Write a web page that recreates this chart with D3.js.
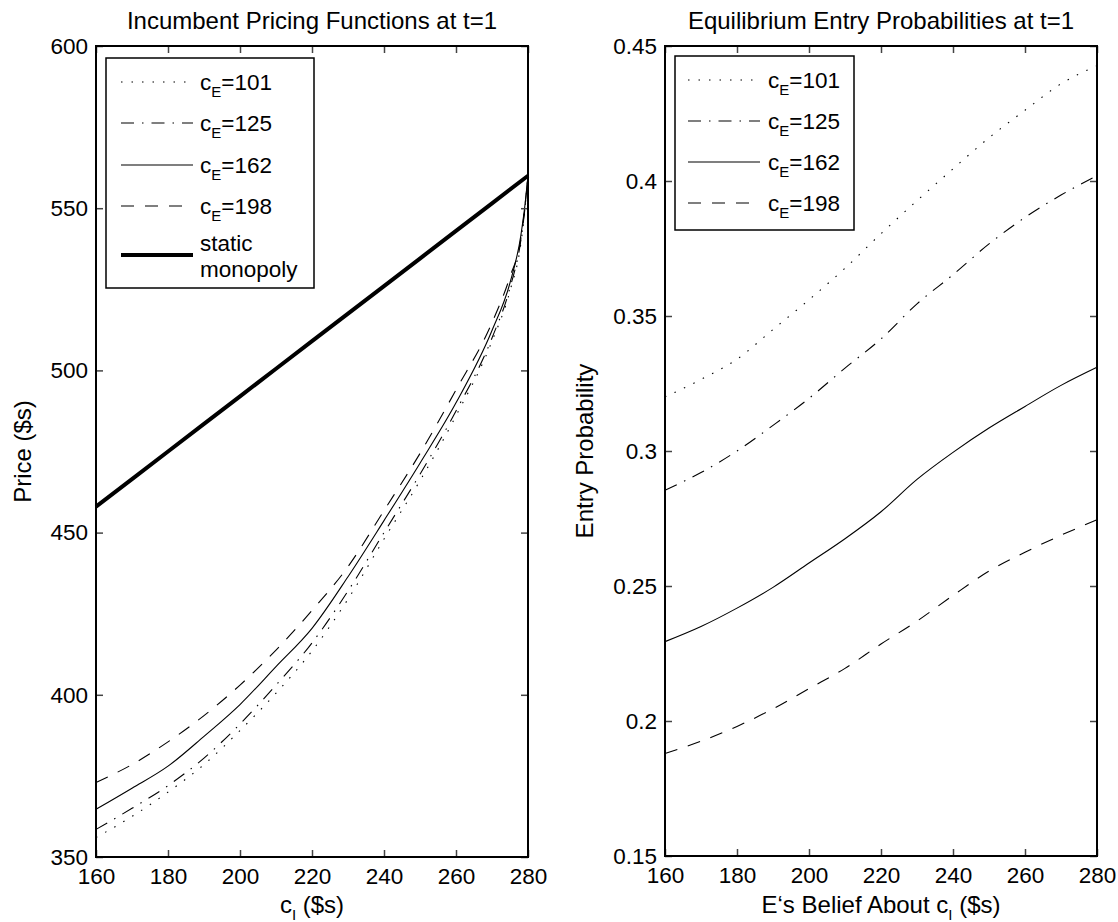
<!DOCTYPE html>
<html>
<head>
<meta charset="utf-8">
<script src="https://cdn.jsdelivr.net/npm/d3@7"></script>
<style>
body { margin: 0; background: #fff; }
text { font-family: "Liberation Sans", Arial, sans-serif; fill: #000; }
</style>
</head>
<body>
<div id="chart"></div>
<script>
// ---- data ----
var seriesNames = ["101", "125", "162", "198"];

// left panel: incumbent price vs c_I
var priceC   = [160, 170, 180, 190, 200, 210, 220, 230, 240, 250, 260, 270, 275, 278, 279, 280];
var price101 = [356, 362.5, 370, 378.5, 389, 400.5, 413.5, 429.5, 448, 466, 486, 509, 524.5, 539, 548, 560];
var price125 = [358.5, 365, 372, 380.5, 391, 403, 416, 432, 450, 468, 487.5, 510, 525.5, 540, 548.5, 560];
var price162 = [364.7, 371.2, 378, 387.2, 397, 408.7, 420.5, 436.4, 453.7, 471.4, 490, 512.3, 527, 541.5, 549.5, 560];
var price198 = [373, 378.5, 385.5, 393.6, 403, 413.8, 426, 439.5, 456.8, 474.4, 494, 514.7, 528.9, 540.5, 549, 560];
var staticC  = [160, 180, 200, 220, 240, 260, 280];
var staticP  = [458, 475, 492, 509, 526, 543, 560];

// right panel: entry probability vs E's belief about c_I
var probC   = [160, 170, 180, 190, 200, 210, 220, 230, 240, 250, 260, 270, 280];
var prob101 = [0.320, 0.3265, 0.334, 0.345, 0.356, 0.3677, 0.3805, 0.3927, 0.4045, 0.416, 0.4262, 0.436, 0.4427];
var prob125 = [0.2855, 0.292, 0.300, 0.3095, 0.3195, 0.3307, 0.3415, 0.3545, 0.3653, 0.3767, 0.3865, 0.3948, 0.402];
var prob162 = [0.2294, 0.235, 0.2418, 0.2495, 0.2585, 0.2675, 0.2775, 0.2895, 0.2995, 0.3085, 0.3165, 0.3243, 0.331];
var prob198 = [0.188, 0.1925, 0.198, 0.2045, 0.212, 0.2195, 0.2285, 0.237, 0.2465, 0.2555, 0.2625, 0.2688, 0.2745];

var xTicks = [160, 180, 200, 220, 240, 260, 280];
var priceTicks = [350, 400, 450, 500, 550, 600];
var probTicks = [0.15, 0.2, 0.25, 0.3, 0.35, 0.4, 0.45];

// ---- styles ----
var dashes = { "101": "1.5,9", "125": "13,8,1.5,8", "162": null, "198": "13,11" };
var tickFont = 22.5;
var labelFont = 24;

var svg = d3.select("#chart").append("svg")
  .attr("width", 1118)
  .attr("height", 922);

svg.append("rect").attr("width", 1118).attr("height", 922).attr("fill", "#fff");

function subLabel(sel, pre, sub, post) {
  sel.append("tspan").text(pre);
  sel.append("tspan").attr("font-size", 15).attr("dy", 7).text(sub);
  if (post) sel.append("tspan").attr("dy", -7).text(post);
}

function drawPanel(p) {
  var x = d3.scaleLinear().domain([160, 280]).range([p.left, p.right]);
  var y = d3.scaleLinear().domain(p.yDomain).range([p.bottom, p.top]);

  var g = svg.append("g");

  // data lines
  var line = d3.line()
    .x(function(d) { return x(d[0]); })
    .y(function(d) { return y(d[1]); })
    .curve(d3.curveMonotoneX);

  if (p.thick) {
    g.append("path")
      .datum(d3.zip(p.thick.c, p.thick.v))
      .attr("d", line)
      .attr("fill", "none")
      .attr("stroke", "#000")
      .attr("stroke-width", 4);
  }

  p.series.forEach(function(s, i) {
    g.append("path")
      .datum(d3.zip(p.xs, s))
      .attr("d", line)
      .attr("fill", "none")
      .attr("stroke", "#000")
      .attr("stroke-width", 1.1)
      .attr("stroke-dasharray", dashes[seriesNames[i]]);
  });

  // axes (ticks point inward, on all four sides)
  var bottomAxis = d3.axisBottom(x).tickValues(xTicks).tickSize(-7).tickPadding(11);
  var topAxis = d3.axisTop(x).tickValues(xTicks).tickSize(-7).tickFormat("");
  var leftAxis = d3.axisLeft(y).tickValues(p.yTicks).tickSize(-7).tickPadding(8).tickFormat(p.fmt);
  var rightAxis = d3.axisRight(y).tickValues(p.yTicks).tickSize(-7).tickFormat("");

  var axes = [
    g.append("g").attr("transform", "translate(0," + p.bottom + ")").call(bottomAxis),
    g.append("g").attr("transform", "translate(0," + p.top + ")").call(topAxis),
    g.append("g").attr("transform", "translate(" + p.left + ",0)").call(leftAxis),
    g.append("g").attr("transform", "translate(" + p.right + ",0)").call(rightAxis)
  ];
  axes.forEach(function(a) {
    a.select(".domain").remove();
    a.selectAll(".tick line").attr("stroke", "#444").attr("stroke-width", 1.5);
    a.selectAll("text").attr("font-size", tickFont)
      .attr("font-family", "Liberation Sans, Arial, sans-serif").attr("fill", "#000");
  });

  g.append("rect")
    .attr("x", p.left).attr("y", p.top)
    .attr("width", p.right - p.left).attr("height", p.bottom - p.top)
    .attr("fill", "none").attr("stroke", "#000").attr("stroke-width", 2);

  // title
  g.append("text")
    .attr("x", (p.left + p.right) / 2).attr("y", 29)
    .attr("text-anchor", "middle").attr("font-size", labelFont)
    .text(p.title);

  // x label
  var xl = g.append("text")
    .attr("x", (p.left + p.right) / 2).attr("y", 913)
    .attr("text-anchor", "middle").attr("font-size", labelFont);
  subLabel(xl, p.xLabelPre, "I", " ($s)");

  // y label
  g.append("text")
    .attr("transform", "translate(" + p.yLabelX + "," + ((p.top + p.bottom) / 2) + ") rotate(-90)")
    .attr("text-anchor", "middle").attr("font-size", labelFont)
    .text(p.yLabel);

  // legend
  var L = p.legend;
  g.append("rect")
    .attr("x", L.x).attr("y", L.y).attr("width", L.w).attr("height", L.h)
    .attr("fill", "#fff").attr("stroke", "#000").attr("stroke-width", 1.5);

  seriesNames.forEach(function(name, i) {
    var ry = L.rows[i];
    g.append("line")
      .attr("x1", L.lx1).attr("x2", L.lx2).attr("y1", ry).attr("y2", ry)
      .attr("stroke", "#000").attr("stroke-width", 1.1)
      .attr("stroke-dasharray", dashes[name]);
    var t = g.append("text").attr("x", L.tx).attr("y", ry + 8).attr("font-size", tickFont);
    subLabel(t, "c", "E", "=" + name);
  });

  if (L.staticRow) {
    g.append("line")
      .attr("x1", L.lx1).attr("x2", L.lx2).attr("y1", L.staticRow).attr("y2", L.staticRow)
      .attr("stroke", "#000").attr("stroke-width", 4);
    g.append("text").attr("x", L.tx).attr("y", L.staticRow - 4).attr("font-size", tickFont).text("static");
    g.append("text").attr("x", L.tx).attr("y", L.staticRow + 22).attr("font-size", tickFont).text("monopoly");
  }
}

drawPanel({
  left: 96, right: 528, top: 46, bottom: 857,
  yDomain: [350, 600], yTicks: priceTicks, fmt: d3.format("d"),
  xs: priceC, series: [price101, price125, price162, price198],
  thick: { c: staticC, v: staticP },
  title: "Incumbent Pricing Functions at t=1",
  xLabelPre: "c", yLabel: "Price ($s)", yLabelX: 31,
  legend: { x: 106, y: 58, w: 208, h: 230, lx1: 121, lx2: 193, tx: 200,
            rows: [82, 123, 165, 206], staticRow: 255 }
});

drawPanel({
  left: 665, right: 1097, top: 46, bottom: 856,
  yDomain: [0.15, 0.45], yTicks: probTicks, fmt: function(d) { return String(d); },
  xs: probC, series: [prob101, prob125, prob162, prob198],
  thick: null,
  title: "Equilibrium Entry Probabilities at t=1",
  xLabelPre: "E\u2018s Belief About c", yLabel: "Entry Probability", yLabelX: 593,
  legend: { x: 675, y: 56, w: 179, h: 174, lx1: 688, lx2: 760, tx: 768,
            rows: [80, 121, 162, 203] }
});
</script>
</body>
</html>
